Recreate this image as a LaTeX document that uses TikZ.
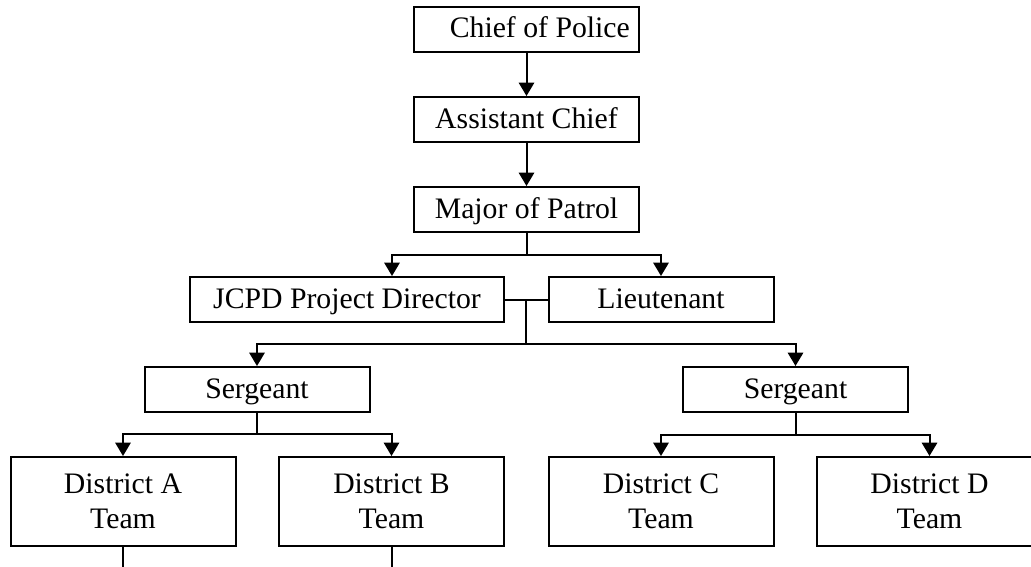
\documentclass[tikz,border=0pt]{standalone}
\usepackage{fontspec}
\setmainfont{Liberation Serif}
\usetikzlibrary{arrows.meta,calc}
\begin{document}
\begin{tikzpicture}[x=0.75pt,y=-0.75pt,
  font=\fontsize{22.3}{26.4}\selectfont,
  box/.style={draw,line width=1.5pt,inner sep=0pt,minimum width=168.75pt,minimum height=33.75pt,align=center,text height=17pt,text depth=4.25pt},
  tall/.style={draw,line width=1.5pt,inner sep=0pt,minimum width=168.75pt,minimum height=66.75pt,align=center},
  wide/.style={box,minimum width=235.5pt},
  line/.style={line width=1.5pt},
  arr/.style={line, -{Triangle[length=10pt,width=11.5pt]}}]
\useasboundingbox (0,0) rectangle (1031,567);
\node[box] (chief) at (526.5,29.5) {\hspace*{20pt}Chief of Police};
\node[box] (asst) at (526.5,119.5) {Assistant Chief};
\node[box] (major) at (526.5,209.5) {Major of Patrol};
\node[wide] (jcpd) at (347,299.5) {JCPD Project Director};
\node[box] (lieut) at (661,299.5) {Lieutenant};
\node[box] (sgtL) at (257,389.5) {Sergeant};
\node[box] (sgtR) at (795.5,389.5) {Sergeant};
\node[tall] (dA) at (123,501.5) {District A\\Team};
\node[tall] (dB) at (391.5,501.5) {District B\\Team};
\node[tall] (dC) at (661,501.5) {District C\\Team};
\node[tall] (dD) at (929.5,501.5) {District D\\Team};

\draw[arr] (chief.south) -- (asst.north);
\draw[arr] (asst.south) -- (major.north);
\draw[line] (major.south) -- ++(0,22) coordinate (mj);
\draw[arr] (mj) -| ([xshift=33.75pt]jcpd.north);
\draw[arr] (mj) -| (lieut.north);
\draw[line] (jcpd.east) -- (lieut.west);
\coordinate (mid) at ($(jcpd.east)!0.5!(lieut.west)$);
\draw[line] (mid) -- ++(0,44.5) coordinate (lb);
\draw[arr] (lb) -| (sgtL.north);
\draw[arr] (lb) -| (sgtR.north);
\draw[line] (sgtL.south) -- ++(0,21) coordinate (sl);
\draw[arr] (sl) -| (dA.north);
\draw[arr] (sl) -| (dB.north);
\draw[line] (sgtR.south) -- ++(0,22) coordinate (sr);
\draw[arr] (sr) -| (dC.north);
\draw[arr] (sr) -| (dD.north);
\draw[line] (dA.south) -- ++(0,25) coordinate (ea);
\draw[line] (dB.south) -- ++(0,25) coordinate (eb);
\end{tikzpicture}
\end{document}
